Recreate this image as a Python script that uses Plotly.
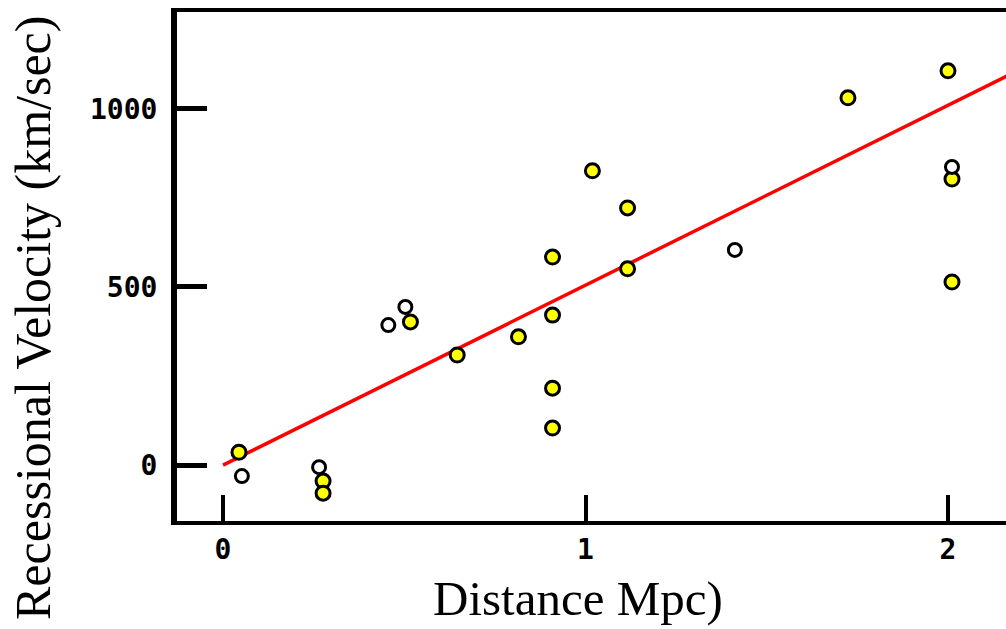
import plotly.graph_objects as go

# Data
filled_dist = [0.044, 0.276, 0.276, 0.517, 0.646, 0.815, 0.909, 0.909, 0.909, 0.909,
               1.019, 1.116, 1.116, 1.724, 2.0, 2.011, 2.011]
filled_vel = [36, -45, -79, 402, 309, 360, 584, 421, 216, 104,
              826, 722, 551, 1031, 1107, 803, 514]
hollow_dist = [0.052, 0.265, 0.456, 0.503, 1.412, 2.011]
hollow_vel = [-31, -6, 393, 444, 604, 837]

fit_dist = [0.0, 2.17]
hubble_const = 505
fit_vel = [d * hubble_const for d in fit_dist]

x_ticks = [0, 1, 2]
x_tick_text = ["0", "1", "2"]
y_ticks = [0, 500, 1000]
y_tick_text = ["0", "500", "1000"]

fig = go.Figure()
fig.add_trace(go.Scatter(x=fit_dist, y=fit_vel, mode="lines",
                         line=dict(color="#ff0000", width=3.5), hoverinfo="skip"))
fig.add_trace(go.Scatter(x=filled_dist, y=filled_vel, mode="markers",
                         marker=dict(symbol="circle", size=14, color="#ffff00",
                                     line=dict(color="black", width=3))))
fig.add_trace(go.Scatter(x=hollow_dist, y=hollow_vel, mode="markers",
                         marker=dict(symbol="circle", size=13, color="white",
                                     line=dict(color="black", width=3))))

tick_font = dict(family="DejaVu Sans Mono", size=28, color="black", weight="bold")

fig.update_layout(
    width=1006, height=629,
    margin=dict(l=177, r=0, t=12, b=108),
    paper_bgcolor="white", plot_bgcolor="white",
    showlegend=False,
    xaxis=dict(range=[-0.127, 2.160], showgrid=False, zeroline=False,
               showline=True, linecolor="black", linewidth=4, mirror=True,
               ticks="inside", ticklen=26, tickwidth=4, tickcolor="black",
               tickvals=x_ticks, ticktext=x_tick_text, tickfont=tick_font),
    yaxis=dict(range=[-157, 1272], showgrid=False, zeroline=False,
               showline=True, linecolor="black", linewidth=6,
               ticks="inside", ticklen=30, tickwidth=5, tickcolor="black",
               tickvals=y_ticks, ticktext=y_tick_text, tickfont=tick_font,
               ticklabelstandoff=8),
    annotations=[
        dict(text="Distance Mpc)", xref="paper", yref="paper",
             x=(578 - 177) / 829, y=(521 - 598) / 509, xanchor="center", yanchor="middle",
             showarrow=False, font=dict(family="Liberation Serif", size=49, color="black")),
        dict(text="Recessional Velocity (km/sec)", xref="paper", yref="paper",
             x=(33 - 177) / 829, y=(521 - 318) / 509, xanchor="center", yanchor="middle",
             textangle=-90,
             showarrow=False, font=dict(family="Liberation Serif", size=50, color="black")),
    ],
)

fig.write_html("out.html")
